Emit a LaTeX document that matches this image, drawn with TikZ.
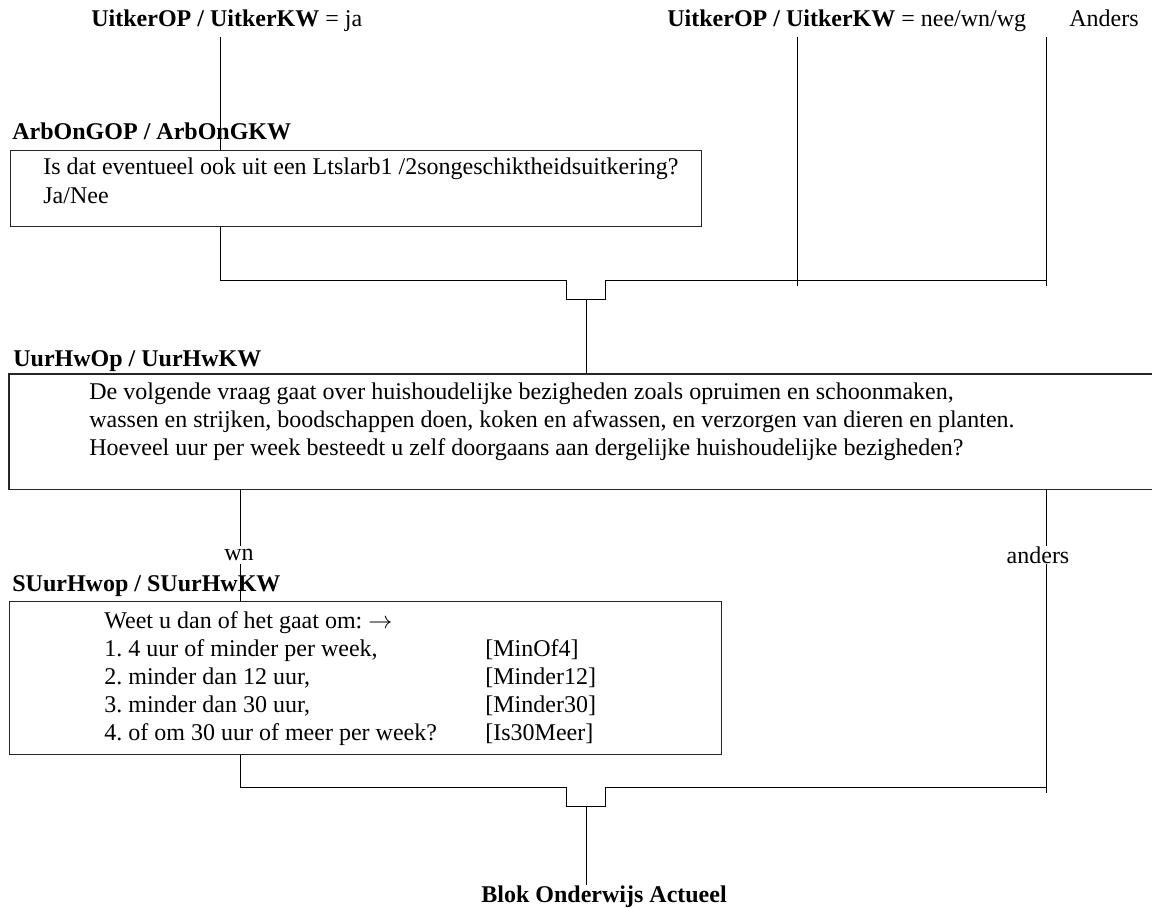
\documentclass[tikz,border=0pt]{standalone}
\usepackage{fontspec}
\setmainfont{Liberation Serif}
\frenchspacing
\begin{document}
\begin{tikzpicture}[x=0.5pt,y=-0.5pt,
  txt/.style={inner sep=0pt, anchor=base west, font=\fontsize{12pt}{14pt}\selectfont},
  lab/.style={inner sep=0pt, anchor=base west, font=\fontsize{12pt}{14pt}\selectfont\bfseries},
  brk/.style={inner sep=0pt, minimum height=9pt, font=\fontsize{12pt}{14pt}\selectfont},
  qbox/.style={draw=black!85, line width=0.6pt, anchor=north west, inner sep=0pt},
  boxline/.style={draw=black!85, line width=0.6pt},
  conn/.style={draw=black, line width=0.5pt}]
\useasboundingbox (0,0) rectangle (1152,908);

% top conditions
\node[txt] (t1) at (91,27) {\textbf{UitkerOP / UitkerKW} = ja};
\node[txt] (t2) at (667,27) {\textbf{UitkerOP / UitkerKW} = nee/wn/wg};
\node[txt] (t3) at (1069,27) {Anders};

% ArbOnGOP
\node[lab] (l1) at (12,140) {ArbOnGOP / ArbOnGKW};
\node[qbox, minimum width=345.75pt, minimum height=38pt] (b1) at (9.5,150) {};
\node[txt] (b1a) at (43,175) {Is dat eventueel ook uit een Ltslarb1 /2songeschiktheidsuitkering?};
\node[txt] (b1b) at (43,204) {Ja/Nee};

% UurHwOp
\node[lab] (l2) at (13,367) {UurHwOp / UurHwKW};
\node[anchor=north west, inner sep=0pt, minimum width=573pt, minimum height=57.5pt] (b2) at (9,374) {};
\draw[boxline] (b2.north east) -- (b2.north west) -- (b2.south west) -- (b2.south east);
\node[txt] (b2a) at (89,400) {De volgende vraag gaat over huishoudelijke bezigheden zoals opruimen en schoonmaken,};
\node[txt] (b2b) at (89,428) {wassen en strijken, boodschappen doen, koken en afwassen, en verzorgen van dieren en planten.};
\node[txt] (b2c) at (89,456) {Hoeveel uur per week besteedt u zelf doorgaans aan dergelijke huishoudelijke bezigheden?};

\node[brk] (wn) at (239,555) {wn};
\node[brk] (an) at (1038,555) {anders};

% SUurHwop
\node[lab] (l3) at (12,592) {SUurHwop / SUurHwKW};
\node[qbox, minimum width=356pt, minimum height=76.5pt] (b3) at (9,601) {};
\node[txt] (b3a) at (104,629) {Weet u dan of het gaat om: $\rightarrow$};
\node[txt] (b3b) at (104,657) {1. 4 uur of minder per week,};
\node[txt] (b3c) at (104,685) {2. minder dan 12 uur,};
\node[txt] (b3d) at (104,713) {3. minder dan 30 uur,};
\node[txt] (b3e) at (104,741) {4. of om 30 uur of meer per week?};
\node[txt] (c3b) at (485,657) {[MinOf4]};
\node[txt] (c3c) at (485,685) {[Minder12]};
\node[txt] (c3d) at (485,713) {[Minder30]};
\node[txt] (c3e) at (485,741) {[Is30Meer]};

\node[lab] (blok) at (481,902) {Blok Onderwijs Actueel};

% upper connectors
\coordinate (s1) at (220,37);
\coordinate (s2) at (797,37);
\coordinate (e2) at (797,286);
\coordinate (s3) at (1046,37);
\coordinate (e3) at (1046,286);
\coordinate (j1) at (220,281);
\coordinate (d1) at (566,281);
\coordinate (d2) at (566,300);
\coordinate (d3) at (605,300);
\coordinate (d4) at (605,281);
\coordinate (j2) at (1046,281);
\coordinate (m1) at (586,300);
\draw[conn] (s1) -- (s1 |- b1.north);
\draw[conn] (b1.south -| s1) -- (j1) -- (d1) -- (d2) -- (d3) -- (d4) -- (j2);
\draw[conn] (s2) -- (e2);
\draw[conn] (s3) -- (e3);
\draw[conn] (m1) -- (m1 |- b2.north);

% lower connectors
\coordinate (x1) at (240,0);
\coordinate (x2) at (1046,0);
\coordinate (k1) at (240,788);
\coordinate (f1) at (566,788);
\coordinate (f2) at (566,807);
\coordinate (f3) at (605,807);
\coordinate (f4) at (605,788);
\coordinate (k2) at (1046,788);
\coordinate (k3) at (1046,793);
\coordinate (m2) at (586,807);
\draw[conn] (b2.south -| x1) -- (wn.north -| x1);
\draw[conn] (wn.south -| x1) -- (b3.north -| x1);
\draw[conn] (b2.south -| x2) -- (an.north -| x2);
\draw[conn] (an.south -| x2) -- (k3);
\draw[conn] (b3.south -| x1) -- (k1) -- (f1) -- (f2) -- (f3) -- (f4) -- (k2);
\draw[conn] (m2) -- (m2 |- blok.north);
\end{tikzpicture}
\end{document}
